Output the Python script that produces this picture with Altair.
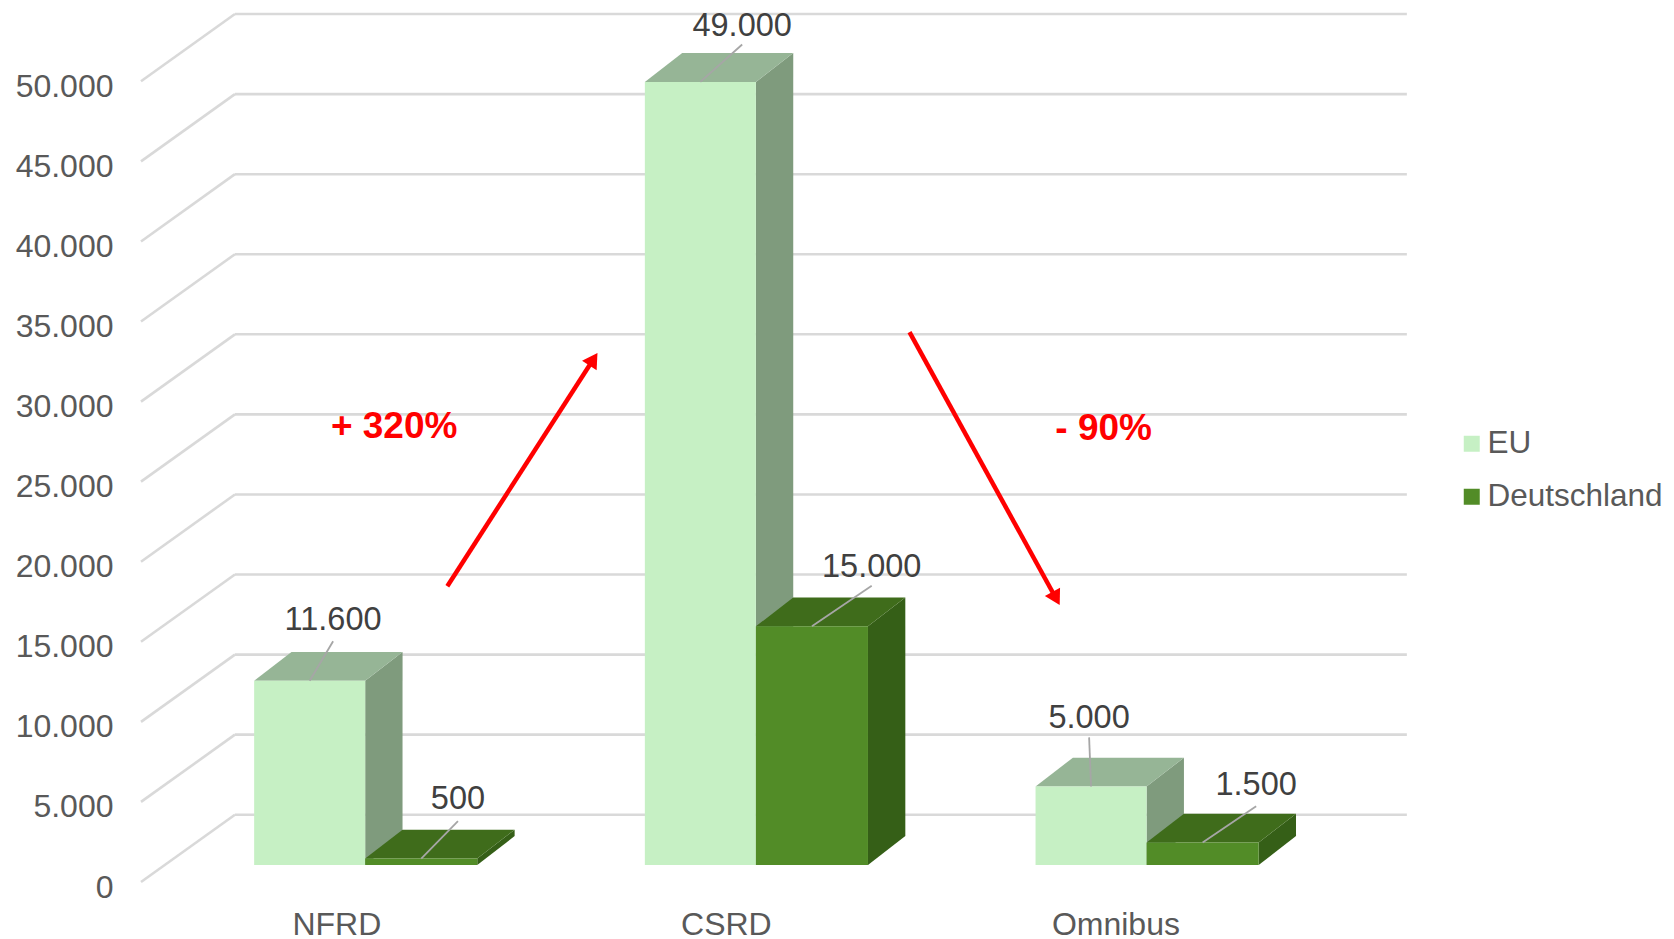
import math
import altair as alt
import pandas as pd

# ---- values
categories = ["NFRD", "CSRD", "Omnibus"]
series = ["EU", "Deutschland"]
eu_values = [11600, 49000, 5000]
de_values = [500, 15000, 1500]
tick_values = [0, 5000, 10000, 15000, 20000, 25000, 30000, 35000, 40000, 45000, 50000]

# ---- layout (x in category units, y in value units on the front plane)
PX_X = 390.7            # pixels per category unit
PX_Y = 0.016014         # pixels per value unit
PLOT_W, PLOT_H = 1519, 892
X_DOM = [-0.5, -0.5 + PLOT_W / PX_X]
Y_DOM = [-1124, -1124 + PLOT_H / PX_Y]

WALL_L, WALL_R = -0.2596, 2.740
WALL_DY = 4200
BASE = 1066
TOP_BASE = 963
DEPTH_X, DEPTH_Y = 0.0956, 1800
LEFT, MID, RIGHT = -0.2104, 0.0738, 0.3607
# leader-line offsets from the top-centre of each front face (category units, value units)
leader_eu = [(0.060, 2467), (0.107, 2333), (-0.005, 3067)]
leader_de = [(0.094, 2333), (0.153, 2533), (0.137, 2267)]
label_dy_eu = [1333, 1170, 1200]
label_dy_de = [1400, 1150, 1333]

front_cols = {"EU": "#C6F0C4", "Deutschland": "#528C27"}
side_cols = {"EU": "#7F9B7D", "Deutschland": "#355F17"}
top_cols = {"EU": "#96B596", "Deutschland": "#3F6C1B"}

# arrows: start and end, in scale units
arrow_up = (0.284, 18467, 0.669, 33067)
arrow_down = (1.467, 34333, 1.852, 17267)
notes = [("+ 320%", 0.148, 28400), ("- 90%", 1.964, 28267)]

FONT = "Liberation Sans"
names_js = "[" + ",".join(f"'{c}'" for c in categories) + "]"
label_expr_x = names_js + "[round(datum.value)]"

xs = alt.Scale(domain=X_DOM, nice=False, zero=False)
ys = alt.Scale(domain=Y_DOM, nice=False, zero=False)
x_axis = alt.Axis(
    values=[0, 0.997, 1.994], labelExpr=label_expr_x, grid=False, domain=False, ticks=False,
    labelFont=FONT, labelFontSize=32, labelColor="#595959", labelPadding=9,
    labelFlush=False, labelOverlap=False, title=None)
y_axis = alt.Axis(
    values=tick_values, labelExpr="replace(format(datum.value, ','), ',', '.')",
    grid=False, domain=False, ticks=False, labelFont=FONT, labelFontSize=32,
    labelColor="#595959", labelPadding=28, labelOffset=5, labelOverlap=False, title=None)
X = lambda f: alt.X(f, type="quantitative", scale=xs, axis=x_axis)
Y = lambda f: alt.Y(f, type="quantitative", scale=ys, axis=y_axis)

# ---- tables
grid = []
for t in tick_values:
    grid.append(dict(x=-0.5, x2=WALL_L, y=t, y2=t + WALL_DY))
    grid.append(dict(x=WALL_L, x2=WALL_R, y=t + WALL_DY, y2=t + WALL_DY))

fronts, sides, tops, leaders, labels = [], [], [], [], []
for i in range(3):
    for s, v, lo, ld, l, r in (
        ("EU", eu_values[i], leader_eu[i], label_dy_eu[i], LEFT, MID),
        ("Deutschland", de_values[i], leader_de[i], label_dy_de[i], MID, RIGHT),
    ):
        xl, xr, t = i + l, i + r, v + TOP_BASE
        key = f"{s}{i}"
        fronts.append(dict(series=s, x=xl, x2=xr, y=BASE, y2=t))
        sides.append(dict(id=key, c=side_cols[s], x=xr, lo=BASE, hi=t))
        sides.append(dict(id=key, c=side_cols[s], x=xr + DEPTH_X, lo=BASE + DEPTH_Y, hi=t + DEPTH_Y))
        tops.append(dict(id=key, c=top_cols[s], y=t, a=xl, b=xr))
        tops.append(dict(id=key, c=top_cols[s], y=t + DEPTH_Y, a=xl + DEPTH_X, b=xr + DEPTH_X))
        cx = (xl + xr) / 2
        leaders.append(dict(x=cx, y=t, x2=cx + lo[0], y2=t + lo[1]))
        labels.append(dict(x=cx + lo[0], y=t + lo[1] + ld,
                           t=f"{v:,}".replace(",", ".")))

# arrows with triangle heads centred just behind the tip
arrow_lines, heads = [], []
HEAD_H = 8
for x0, y0, x1, y1 in (arrow_up, arrow_down):
    dxp, dyp = (x1 - x0) * PX_X, (y1 - y0) * PX_Y
    n = math.hypot(dxp, dyp)
    ux, uy = dxp / n, dyp / n
    hx, hy = x1 - ux * HEAD_H / PX_X, y1 - uy * HEAD_H / PX_Y
    arrow_lines.append(dict(x=x0, y=y0, x2=hx, y2=hy))
    heads.append(dict(x=hx, y=hy, a=math.degrees(math.atan2(ux, uy))))

grid_l = alt.Chart(pd.DataFrame(grid)).mark_rule(color="#D9D9D9", strokeWidth=2.6).encode(
    x=X("x"), x2="x2", y=Y("y"), y2="y2")

side_l = alt.Chart(pd.DataFrame(sides)).mark_area(orient="vertical").encode(
    x=X("x"), y=Y("hi"), y2="lo", detail="id:N",
    fill=alt.Fill("c:N", scale=None, legend=None))

top_l = alt.Chart(pd.DataFrame(tops)).mark_area(orient="horizontal").encode(
    y=Y("y"), x=X("a"), x2="b", detail="id:N",
    fill=alt.Fill("c:N", scale=None, legend=None))

front_l = alt.Chart(pd.DataFrame(fronts)).mark_rect().encode(
    x=X("x"), x2="x2", y=Y("y"), y2="y2",
    color=alt.Color("series:N", title=None,
                    scale=alt.Scale(domain=series, range=[front_cols[s] for s in series]),
                    legend=alt.Legend(orient="none", legendX=1315, legendY=420,
                                      symbolType="square", symbolSize=256,
                                      symbolStrokeWidth=0, labelFont=FONT, labelFontSize=31.5,
                                      labelColor="#595959", rowPadding=20, labelOffset=0,
                                      labelLimit=300)))

leader_l = alt.Chart(pd.DataFrame(leaders)).mark_rule(color="#A6A6A6", strokeWidth=1.8).encode(
    x=X("x"), x2="x2", y=Y("y"), y2="y2")

label_l = alt.Chart(pd.DataFrame(labels)).mark_text(
    font=FONT, fontSize=32.5, color="#404040", align="center", baseline="middle").encode(
    x=X("x"), y=Y("y"), text="t:N")

arrow_l = alt.Chart(pd.DataFrame(arrow_lines)).mark_rule(color="#FF0000", strokeWidth=4.5).encode(
    x=X("x"), x2="x2", y=Y("y"), y2="y2")

head_l = alt.Chart(pd.DataFrame(heads)).mark_point(
    shape="triangle-up", filled=True, color="#FF0000", opacity=1, size=300).encode(
    x=X("x"), y=Y("y"), angle=alt.Angle("a:Q", scale=None))

note_l = alt.Chart(pd.DataFrame(notes, columns=["t", "x", "y"])).mark_text(
    font=FONT, fontSize=37, fontWeight="bold", color="#FF0000",
    align="center", baseline="middle").encode(
    x=X("x"), y=Y("y"), text="t:N")

chart = alt.layer(
    grid_l, side_l, top_l, front_l, leader_l, label_l, arrow_l, head_l, note_l
).properties(
    width=PLOT_W, height=PLOT_H,
    autosize=alt.AutoSizeParams(type="none"),
    padding={"left": 133, "top": 0, "right": 6, "bottom": 46},
).configure_view(stroke=None)

chart.save("out.html", embed_options={"renderer": "svg", "actions": False})
